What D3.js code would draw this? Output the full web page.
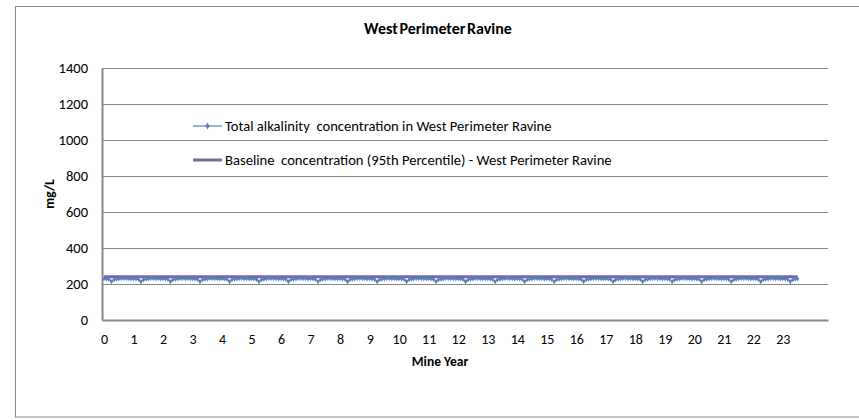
<!DOCTYPE html>
<html>
<head>
<meta charset="utf-8">
<script src="https://cdn.jsdelivr.net/npm/d3@7"></script>
<style>
  body { margin: 0; background: #fff; }
  text { font-family: Calibri, Carlito, "Liberation Sans", Arial, sans-serif; fill: #000; }
</style>
</head>
<body>
<div id="chart"></div>
<script>
			// Width and height
			var w = 859, h = 420;

			// Tick labels
			var yearLabels = [0, 1, 2, 3, 4, 5, 6, 7, 8, 9, 10, 11, 12, 13, 14, 15, 16, 17, 18, 19, 20, 21, 22, 23];
			var concLabels = [0, 200, 400, 600, 800, 1000, 1200, 1400];

			// Monthly total alkalinity (mg/L), one row per mine year
			var alkalinity = [
				230, 228, 226, 213, 224, 227, 229, 231, 231, 230, 230, 229,
				230, 228, 226, 213, 224, 227, 229, 231, 231, 230, 230, 229,
				230, 228, 226, 213, 224, 227, 229, 231, 231, 230, 230, 229,
				230, 228, 226, 213, 224, 227, 229, 231, 231, 230, 230, 229,
				230, 228, 226, 213, 224, 227, 229, 231, 231, 230, 230, 229,
				230, 228, 226, 213, 224, 227, 229, 231, 231, 230, 230, 229,
				230, 228, 226, 213, 224, 227, 229, 231, 231, 230, 230, 229,
				230, 228, 226, 213, 224, 227, 229, 231, 231, 230, 230, 229,
				230, 228, 226, 213, 224, 227, 229, 231, 231, 230, 230, 229,
				230, 228, 226, 213, 224, 227, 229, 231, 231, 230, 230, 229,
				230, 228, 226, 213, 224, 227, 229, 231, 231, 230, 230, 229,
				230, 228, 226, 213, 224, 227, 229, 231, 231, 230, 230, 229,
				230, 228, 226, 213, 224, 227, 229, 231, 231, 230, 230, 229,
				230, 228, 226, 213, 224, 227, 229, 231, 231, 230, 230, 229,
				230, 228, 226, 213, 224, 227, 229, 231, 231, 230, 230, 229,
				230, 228, 226, 213, 224, 227, 229, 231, 231, 230, 230, 229,
				230, 228, 226, 213, 224, 227, 229, 231, 231, 230, 230, 229,
				230, 228, 226, 213, 224, 227, 229, 231, 231, 230, 230, 229,
				230, 228, 226, 213, 224, 227, 229, 231, 231, 230, 230, 229,
				230, 228, 226, 213, 224, 227, 229, 231, 231, 230, 230, 229,
				230, 228, 226, 213, 224, 227, 229, 231, 231, 230, 230, 229,
				230, 228, 226, 213, 224, 227, 229, 231, 231, 230, 230, 229,
				230, 228, 226, 213, 224, 227, 229, 231, 231, 230, 230, 229,
				230, 228, 226, 213, 224, 227, 229
			];

			// Baseline (95th percentile)
			var baselineYears = [0, 23.5];
			var baselineValues = [240, 240];

			var legendNames = [
				"Total alkalinity  concentration in West Perimeter Ravine",
				"Baseline  concentration (95th Percentile) - West Perimeter Ravine"
			];

			var blue = "#4f81bd", purple = "#8064a2", grey = "#878787";

			var svg = d3.select("#chart")
						.append("svg")
						.attr("width", w)
						.attr("height", h);

			// Outer chart frame
			svg.append("rect")
				.attr("x", 15.5).attr("y", 6.5)
				.attr("width", 870).attr("height", 410.5)
				.attr("fill", "#fff").attr("stroke", grey).attr("stroke-width", 1);

			// Plot area
			var plot = { left: 102, right: 828, top: 68, bottom: 320 };

			var x = d3.scaleLinear()
						.domain([-0.07, 24.53])
						.range([plot.left, plot.right]);

			var y = d3.scaleLinear()
						.domain([0, 1400])
						.range([plot.bottom, plot.top]);

			// Gridlines
			svg.append("g")
				.selectAll("line")
				.data(concLabels.slice(1))
				.enter().append("line")
				.attr("x1", plot.left).attr("x2", plot.right)
				.attr("y1", function(d) { return Math.round(y(d)) + 0.5; })
				.attr("y2", function(d) { return Math.round(y(d)) + 0.5; })
				.attr("stroke", grey).attr("stroke-width", 1);

			// Y axis
			var yAxis = svg.append("g")
				.attr("transform", "translate(" + plot.left + ",0)")
				.call(d3.axisLeft(y).tickValues(concLabels).tickSize(0).tickPadding(14).tickFormat(d3.format("d")));
			yAxis.select(".domain").attr("stroke", grey).attr("stroke-width", 2);
			yAxis.selectAll("text").style("font-size", "14.5px").attr("fill", "#000");

			// X axis
			var xAxis = svg.append("g")
				.attr("transform", "translate(0," + plot.bottom + ")")
				.call(d3.axisBottom(x).tickValues(yearLabels).tickSize(0).tickPadding(14).tickFormat(d3.format("d")));
			xAxis.select(".domain").attr("stroke", grey).attr("stroke-width", 2);
			xAxis.selectAll("text").style("font-size", "14px").attr("fill", "#000");

			// Title and axis titles
			svg.append("text")
				.text("West Perimeter Ravine")
				.attr("x", 438).attr("y", 34)
				.attr("text-anchor", "middle")
				.style("font-size", "16px").style("font-weight", "bold").style("word-spacing", "-2px");

			svg.append("text")
				.text("Mine Year")
				.attr("x", 440).attr("y", 366)
				.attr("text-anchor", "middle")
				.style("font-size", "13.5px").style("font-weight", "bold");

			svg.append("text")
				.text("mg/L")
				.attr("transform", "translate(54,194) rotate(-90)")
				.attr("text-anchor", "middle")
				.style("font-size", "13.5px").style("font-weight", "bold");

			// Baseline series
			var baseline = baselineYears.map(function(d, i) { return [d, baselineValues[i]]; });
			svg.append("path")
				.datum(baseline)
				.attr("fill", "none").attr("stroke", purple).attr("stroke-width", 3)
				.attr("d", d3.line()
					.x(function(d) { return x(d[0]); })
					.y(function(d) { return y(d[1]); }));

			// Alkalinity series (monthly)
			var monthly = alkalinity.map(function(d, i) { return [i / 12, d]; });
			var line = d3.line()
						.x(function(d) { return x(d[0]); })
						.y(function(d) { return y(d[1]); });

			svg.append("path")
				.datum(monthly)
				.attr("fill", "none").attr("stroke", blue).attr("stroke-width", 1.2)
				.attr("d", line);

			var diamond = d3.symbol().type(d3.symbolDiamond).size(8);
			svg.append("g")
				.selectAll("path")
				.data(monthly)
				.enter().append("path")
				.attr("d", diamond)
				.attr("transform", function(d) { return "translate(" + x(d[0]) + "," + y(d[1]) + ")"; })
				.attr("fill", blue);

			// Legend
			var legend = svg.append("g");

			legend.append("line")
				.attr("x1", 193).attr("x2", 222).attr("y1", 126).attr("y2", 126)
				.attr("stroke", blue).attr("stroke-width", 1.2);
			legend.append("path")
				.attr("d", d3.symbol().type(d3.symbolDiamond).size(14))
				.attr("transform", "translate(207.5,126)")
				.attr("fill", blue);
			legend.append("text")
				.text(legendNames[0])
				.attr("x", 225).attr("y", 131)
				.style("white-space", "pre")
				.style("font-size", "14.6px");

			legend.append("line")
				.attr("x1", 193).attr("x2", 222).attr("y1", 160).attr("y2", 160)
				.attr("stroke", purple).attr("stroke-width", 3);
			legend.append("text")
				.text(legendNames[1])
				.attr("x", 225).attr("y", 165)
				.style("white-space", "pre")
				.style("font-size", "14.6px");
</script>
</body>
</html>
